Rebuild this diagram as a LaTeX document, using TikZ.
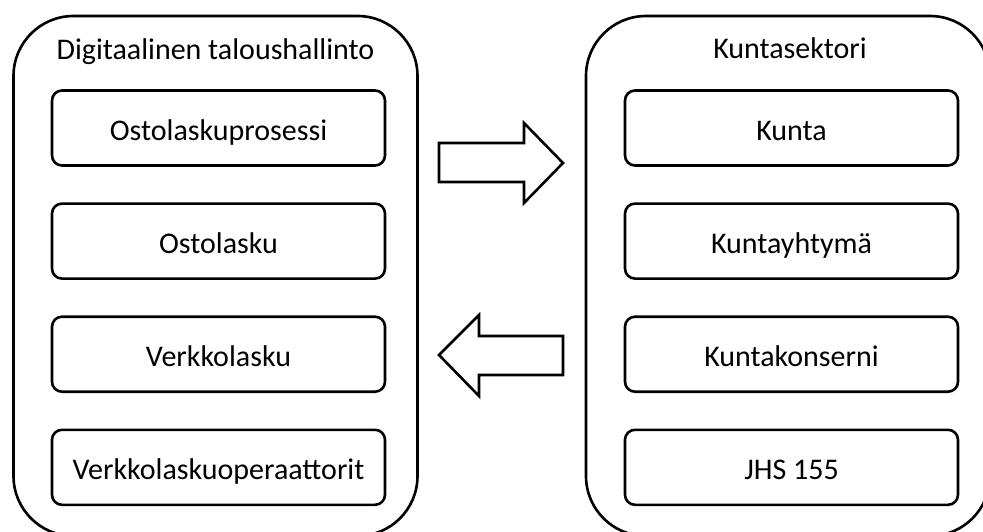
\documentclass[tikz,border=0pt]{standalone}
\usepackage{fontspec}
\setmainfont{Carlito}
\usetikzlibrary{positioning}

\begin{document}
\begin{tikzpicture}[x=1pt, y=-1pt,
        outerbox/.style={draw, line width=2.6pt, rounded corners=60pt, minimum width=404pt, minimum height=520pt, inner sep=0pt},
        innerbox/.style={draw, line width=2.6pt, rounded corners=10pt, minimum width=333pt, minimum height=75pt, inner sep=0pt, text height=25pt, text depth=0pt},
        blockarrow/.style={draw, line width=2.6pt, line join=miter, fill=white},
        font=\fontsize{30}{36}\selectfont]
        \useasboundingbox (0,0) rectangle (983,532);
        \clip (0,0) rectangle (983,532);

        % Outer groups
        \node[outerbox] (talous) at (215.5,276) {};
        \node[outerbox] (sektori) at (788,276) {};

        \node[anchor=base] (talousT) at (215.5,60) {Digitaalinen taloushallinto};
        \node[anchor=base] (sektoriT) at (790,59) {Kuntasektori};

        % Left column
        \node[innerbox] (osto) at (218.5,128) {Ostolaskuprosessi};
        \node[innerbox, below=35.5pt of osto] (lasku) {Ostolasku};
        \node[innerbox, below=35.5pt of lasku] (verkko) {Verkkolasku};
        \node[innerbox, below=35.5pt of verkko] (oper) {Verkkolaskuoperaattorit};

        % Right column
        \node[innerbox] (kunta) at (791.5,128) {Kunta};
        \node[innerbox, below=35.5pt of kunta] (yhtyma) {Kuntayhtymä};
        \node[innerbox, below=35.5pt of yhtyma] (konserni) {Kuntakonserni};
        \node[innerbox, below=35.5pt of konserni] (jhs) {JHS 155};

        % Block arrows
        \draw[blockarrow] (439,143) -- (524,143) -- (524,123) -- (563,163)
            -- (524,203) -- (524,182) -- (439,182) -- cycle;
        \draw[blockarrow] (563,336) -- (479,336) -- (479,315) -- (439,355)
            -- (479,396) -- (479,375) -- (563,375) -- cycle;
    \end{tikzpicture}
\end{document}
